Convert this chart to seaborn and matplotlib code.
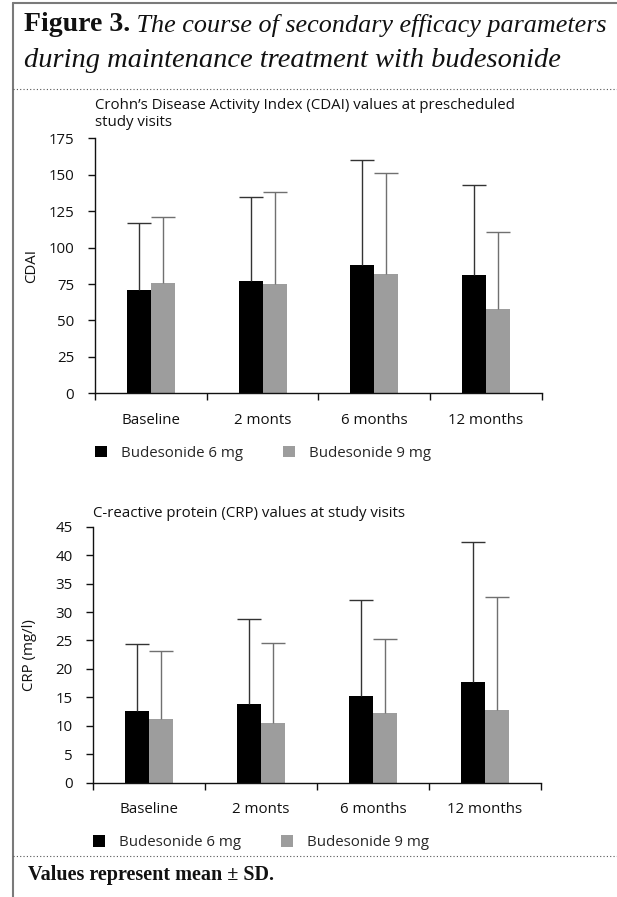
import pandas as pd
import matplotlib.pyplot as plt
import seaborn as sns
from matplotlib.lines import Line2D

# Data (mean and SD)
besok = ["Baseline", "2 monts", "6 months", "12 months"]
grupper = ["Budesonide 6 mg", "Budesonide 9 mg"]

cdai_6mg = [71, 77, 88, 81]
cdai_6mg_sd = [46, 58, 72, 62]
cdai_9mg = [76, 75, 82, 58]
cdai_9mg_sd = [45, 63, 69, 53]

crp_6mg = [12.6, 13.8, 15.2, 17.7]
crp_6mg_sd = [11.7, 14.9, 16.9, 24.7]
crp_9mg = [11.2, 10.5, 12.3, 12.8]
crp_9mg_sd = [12.0, 14.0, 12.9, 19.8]

farger = ["#000000", "#9d9d9d"]
feil_farger = ["#333333", "#707070"]
fs = 10.8

sns.set_theme(style="ticks")
plt.rcParams["font.family"] = ["Open Sans", "DejaVu Sans"]


def tegn_panel(ax, m6, sd6, m9, sd9, ymax, steg, tittel, ylabel, tpad):
    df = pd.DataFrame({
        "besøk": besok * 2,
        "gruppe": [grupper[0]] * 4 + [grupper[1]] * 4,
        "snitt": list(m6) + list(m9),
    })
    sns.barplot(data=df, x="besøk", y="snitt", hue="gruppe", order=besok,
                hue_order=grupper, palette=farger, width=0.43, errorbar=None,
                saturation=1, linewidth=0, ax=ax)

    # kun øvre SD-strek
    for cont, snitt, sd, fc in zip(ax.containers, [m6, m9], [sd6, sd9], feil_farger):
        xs = [p.get_x() + p.get_width() / 2 for p in cont]
        eb = ax.errorbar(xs, snitt, yerr=[[0] * len(sd), sd], fmt="none",
                         ecolor=fc, elinewidth=1.0, capsize=8.5, capthick=1.0, zorder=3)
        eb.lines[1][0].set_visible(False)

    ax.set_ylim(0, ymax)
    ax.set_yticks(range(0, ymax + 1, steg))
    ax.set_xlim(-0.5, 3.5)
    ax.set_xticks([-0.5, 0.5, 1.5, 2.5, 3.5], minor=True)
    ax.tick_params(axis="x", which="major", length=0, pad=14, labelsize=fs, colors="#111111")
    ax.tick_params(axis="x", which="minor", length=5, width=1, direction="out", color="#111111")
    ax.tick_params(axis="y", length=5, width=1, pad=10, labelsize=fs, colors="#111111")
    for s in ["left", "bottom"]:
        ax.spines[s].set_linewidth(1.0)
        ax.spines[s].set_color("#111111")
    sns.despine(ax=ax)

    ax.set_xlabel("")
    ax.set_ylabel(ylabel, fontsize=fs, color="#111111")
    ax.yaxis.set_label_coords(-0.125, 0.5)
    ax.set_title(tittel, loc="left", fontsize=fs, pad=tpad, color="#111111",
                 linespacing=1.2)

    sns.move_legend(ax, "center left", bbox_to_anchor=(0.0, -0.234), ncol=2,
                    frameon=False, title=None, fontsize=fs, handlelength=0.8,
                    handleheight=0.8, handletextpad=0.9, columnspacing=2.7,
                    borderpad=0, borderaxespad=0)


fig = plt.figure(figsize=(6.17, 8.97), dpi=100)

ax1 = fig.add_axes([0.154, 0.5615, 0.724, 0.2843])
tegn_panel(ax1, cdai_6mg, cdai_6mg_sd, cdai_9mg, cdai_9mg_sd, 175, 25,
           "Crohn\u2019s Disease Activity Index (CDAI) values at prescheduled\nstudy visits",
           "CDAI", 9)

ax2 = fig.add_axes([0.1512, 0.1274, 0.725, 0.2854])
tegn_panel(ax2, crp_6mg, crp_6mg_sd, crp_9mg, crp_9mg_sd, 45, 5,
           "C-reactive protein (CRP) values at study visits", "CRP (mg/l)", 7)

# ramme og overskrift
bg = fig.add_axes([0, 0, 1, 1], zorder=-1)
bg.axis("off")
bg.set_xlim(0, 617)
bg.set_ylim(897, 0)
bg.add_line(Line2D([12.5, 12.5], [3, 897], color="#7a7a7a", lw=1.5))
bg.add_line(Line2D([12.5, 617], [3.5, 3.5], color="#7a7a7a", lw=1.5))
bg.add_line(Line2D([13, 617], [89, 89], color="#555555", lw=0.8, ls=(0, (1, 2))))
bg.add_line(Line2D([13, 617], [856, 856], color="#555555", lw=0.8, ls=(0, (1, 2))))

serif = ["Liberation Serif", "DejaVu Serif"]
t1 = bg.text(24, 31, "Figure 3.", fontsize=20, fontweight="bold", family=serif,
             va="baseline", color="#111111")
bg.annotate(" The course of secondary efficacy parameters", xy=(1, 0), xycoords=t1,
            fontsize=18.8, style="italic", family=serif, va="bottom", color="#111111")
bg.text(24, 67, "during maintenance treatment with budesonide", fontsize=20.5,
        style="italic", family=serif, va="baseline", color="#111111")
bg.text(28, 880, "Values represent mean \u00b1 SD.", fontsize=14.5, fontweight="bold",
        family=serif, va="baseline", color="#111111")

fig.savefig("out.png", dpi=100)
